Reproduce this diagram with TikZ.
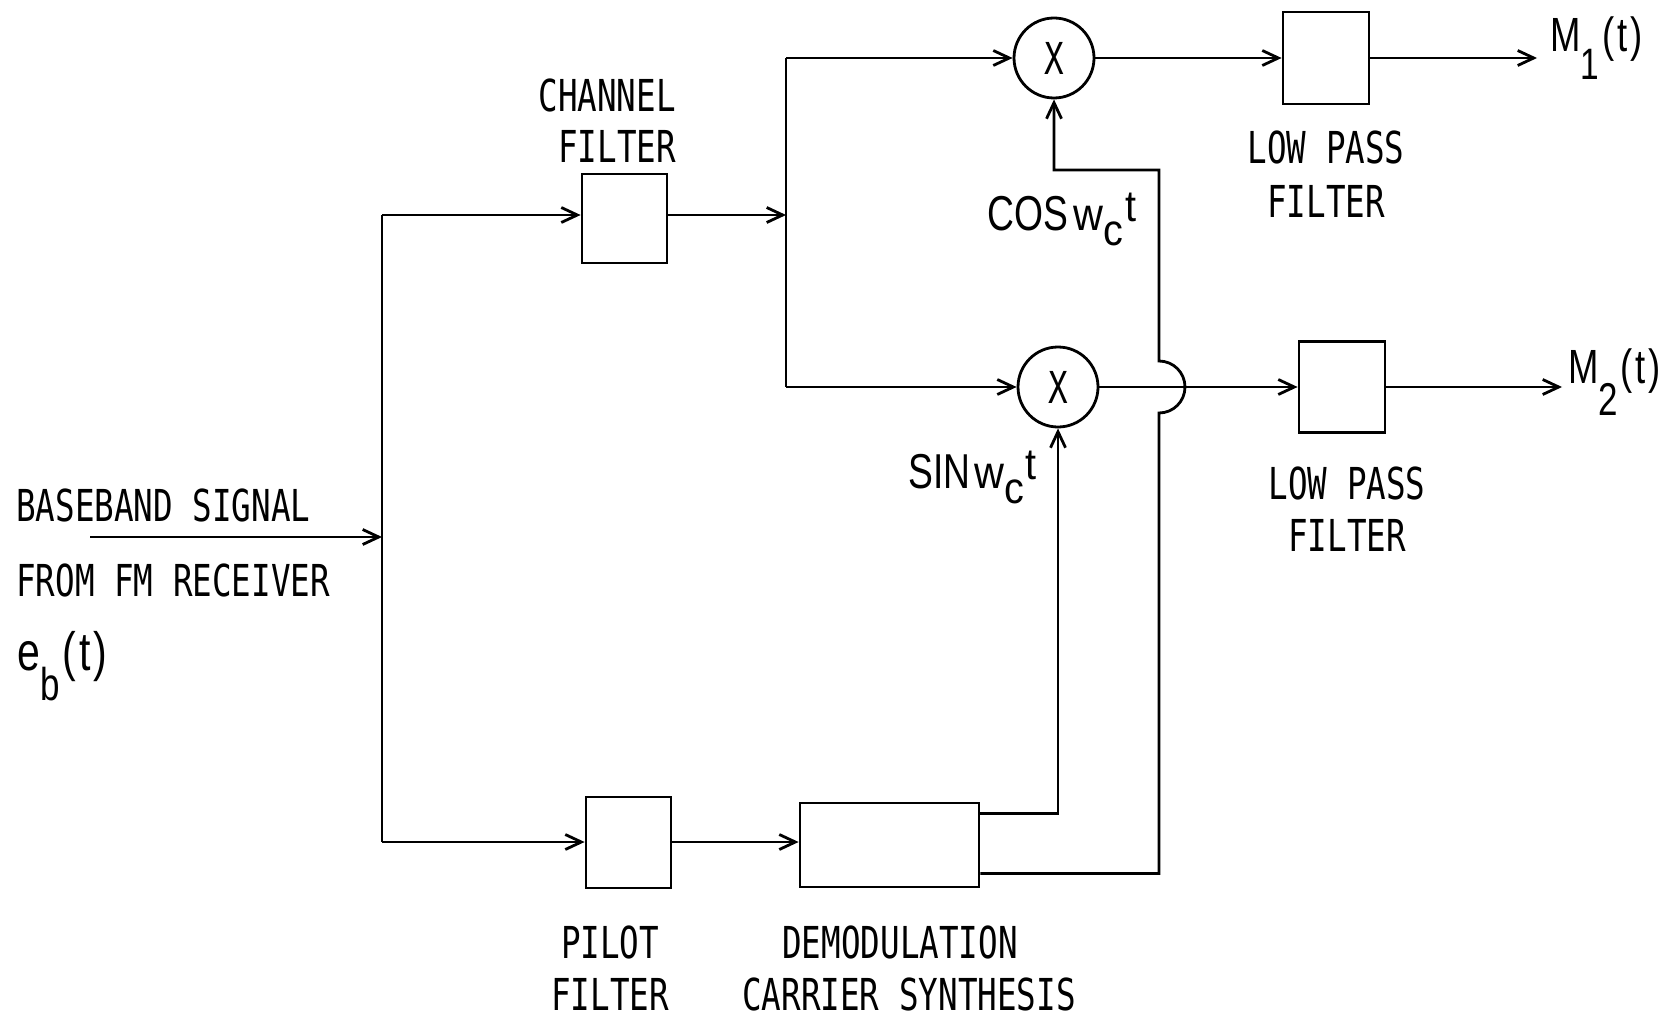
\documentclass[tikz,border=0pt]{standalone}
\usepackage{fontspec}
\usetikzlibrary{arrows.meta}
\newfontfamily\lab{DejaVu Sans Mono}[FakeStretch=0.74]
\newfontfamily\mlab{Liberation Sans}[FakeStretch=0.76]
\newfontfamily\wlab{Liberation Sans}[FakeStretch=0.9]
\begin{document}
\begin{tikzpicture}[x=1pt,y=-1pt,
  wire/.style={line width=2.8pt},
  arr/.style={wire,-{Straight Barb[length=16pt,width=15pt]}},
  blk/.style={draw,line width=2.8pt,inner sep=0},
  txt/.style={inner sep=0,anchor=base,font=\lab\fontsize{44}{50}\selectfont},
  mtxt/.style={inner sep=0,anchor=base west,font=\mlab\fontsize{49}{50}\selectfont},
  mult/.style={draw,circle,line width=2.8pt,minimum size=80pt,inner sep=0,font=\lab\fontsize{44}{50}\selectfont}]
\useasboundingbox (0,0) rectangle (1677,1019);
% blocks
\node[blk,minimum width=85pt,minimum height=89pt] (cf) at (624.5,218.5) {};
\node[blk,minimum width=85pt,minimum height=91pt] (pf) at (628.5,842.5) {};
\node[blk,minimum width=179pt,minimum height=84pt] (dc) at (889.5,845) {};
\node[mult] (m1) at (1054,58) {X};
\node[mult] (m2) at (1058,387) {X};
\node[blk,minimum width=86pt,minimum height=92pt] (lp1) at (1326,58) {};
\node[blk,minimum width=86pt,minimum height=91pt] (lp2) at (1342,387) {};
% junction coordinates
\coordinate (in) at (90,537);
\coordinate (ja) at (382,537);
\coordinate (jt) at (382,215);
\coordinate (jb) at (382,842);
\coordinate (jc) at (786,215);
\coordinate (ct) at (786,58);
\coordinate (cb) at (786,387);
\coordinate (o1) at (1537,58);
\coordinate (o2) at (1562,387);
\coordinate (jx) at (1159,0);
\coordinate (jtop) at (1159,170);
% connectors
\draw[arr] (in) -- (ja);
\draw[wire] (jt) -- (jb);
\draw[arr] (jt) -- (jt -| cf.west);
\draw[arr] (jb) -- (jb -| pf.west);
\draw[arr] (cf.east |- jt) -- (jc);
\draw[wire] (ct) -- (cb);
\draw[arr] (ct) -- (m1.west);
\draw[arr] (cb) -- (m2.west);
\draw[arr] (pf.east |- jb) -- (jb -| dc.west);
\draw[arr] ([yshift=-12pt]dc.north east) -| (m2.south);
\draw[arr] ([yshift=15pt]dc.south east) -| ([yshift=-26pt]jx |- m2)
  arc[start angle=-90,end angle=90,radius=26pt] -- (jtop) -| (m1.south);
\draw[arr] (m1.east) -- (lp1.west);
\draw[arr] (lp1.east) -- (o1);
\draw[arr] (m2.east) -- (lp2.west);
\draw[arr] (lp2.east) -- (o2);
% labels
\node[txt] (lcf1) at (607,112) {CHANNEL};
\node[txt] (lcf2) at (617,163) {FILTER};
\node[txt] (llp1a) at (1326,164) {LOW PASS};
\node[txt] (llp1b) at (1326,217) {FILTER};
\node[txt] (llp2a) at (1347,499) {LOW PASS};
\node[txt] (llp2b) at (1347,551) {FILTER};
\node[txt] (lpf1) at (610,958) {PILOT};
\node[txt] (lpf2) at (610,1010) {FILTER};
\node[txt] (ldc1) at (900,958) {DEMODULATION};
\node[txt] (ldc2) at (909,1010) {CARRIER SYNTHESIS};
\node[txt,anchor=base west] (lin1) at (16,521) {BASEBAND SIGNAL};
\node[txt,anchor=base west] (lin2) at (16,596) {FROM FM RECEIVER};
\node[mtxt,font=\mlab\fontsize{54}{60}\selectfont] (leb) at (17,670)
  {e\raisebox{-30pt}{\fontsize{46}{50}\selectfont b}\kern3pt(\kern3pt t\kern3pt)};
\node[mtxt] (lcos) at (987,230)
  {COS\kern6pt\wlab\fontsize{46}{50}\selectfont w\raisebox{-15pt}{\fontsize{44}{44}\selectfont c}\kern2pt\raisebox{9pt}{\fontsize{44}{40}\selectfont t}};
\node[mtxt] (lsin) at (908,488)
  {SIN\kern4pt\wlab\fontsize{46}{50}\selectfont w\raisebox{-15pt}{\fontsize{44}{44}\selectfont c}\kern2pt\raisebox{9pt}{\fontsize{44}{40}\selectfont t}};
\node[mtxt,font=\mlab\fontsize{48}{50}\selectfont] (lm1) at (1550,52)
  {M\raisebox{-28pt}{\fontsize{44}{44}\selectfont 1}\kern3pt(\kern3pt t\kern3pt)};
\node[mtxt,font=\mlab\fontsize{48}{50}\selectfont] (lm2) at (1568,383)
  {M\raisebox{-32pt}{\fontsize{46}{50}\selectfont 2}\kern2pt(\kern3pt t\kern3pt)};
\end{tikzpicture}
\end{document}
